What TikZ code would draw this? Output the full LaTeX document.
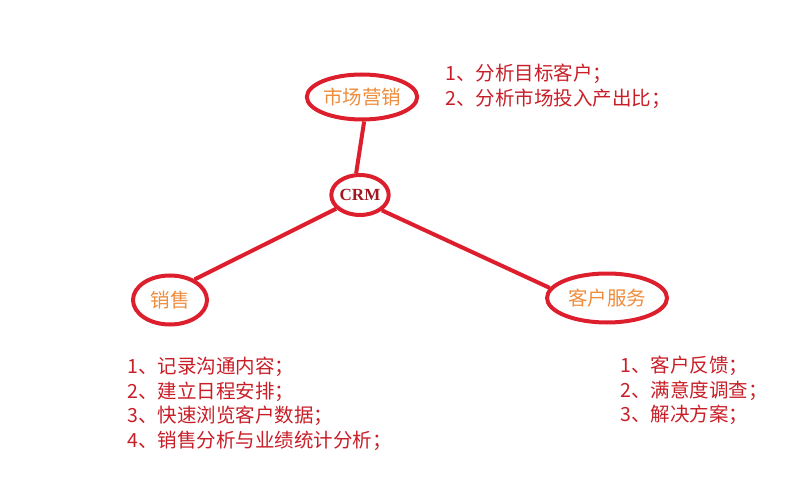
\documentclass[tikz,border=0pt]{standalone}
\usepackage{fontspec}
\setmainfont{Noto Sans CJK SC}
\newfontfamily\crmfont{Liberation Serif}
\usetikzlibrary{shapes.geometric}
\definecolor{ringred}{RGB}{220,30,45}
\definecolor{labelorange}{RGB}{238,140,60}
\definecolor{listred}{RGB}{200,30,40}

\begin{document}
\begin{tikzpicture}[x=1pt, y=-1pt,
        ring/.style={ellipse, draw=ringred, line width=4pt, inner sep=0pt},
        label/.style={text=labelorange, font=\fontsize{19.5}{21}\selectfont},
        items/.style={text=listred, align=left, anchor=north west, inner sep=0pt,
          font=\fontsize{19.5}{24.5}\selectfont},
        link/.style={draw=ringred, line width=4pt}
      ]
      \useasboundingbox (0,0) rectangle (795,489);
      % centre and the three areas
      \node[ring, minimum width=54pt, minimum height=40pt] (crm) at (360,195)
        {\crmfont\bfseries\fontsize{17}{18}\selectfont\color{listred!80!black}CRM};
      \node[ring, label, minimum width=104pt, minimum height=45pt] (market) at (362,97) {市场营销};
      \node[ring, label, minimum width=74pt, minimum height=49pt] (sales) at (170,300) {销售};
      \node[ring, label, minimum width=120pt, minimum height=49pt] (service) at (607,298) {客户服务};
      \draw[link] (market.-85) -- (crm.100);
      \draw[link] (crm.210) -- (sales.40);
      \draw[link] (crm.-35) -- (service.170);
      % what each area does
      \node[items] (marketlist) at (445,64) {1、分析目标客户；\\2、分析市场投入产出比；};
      \node[items] (saleslist) at (127,357) {1、记录沟通内容；\\2、建立日程安排；\\3、快速浏览客户数据；\\4、销售分析与业绩统计分析；};
      \node[items] (servicelist) at (620,356) {1、客户反馈；\\2、满意度调查；\\3、解决方案；};
    \end{tikzpicture}
\end{document}
